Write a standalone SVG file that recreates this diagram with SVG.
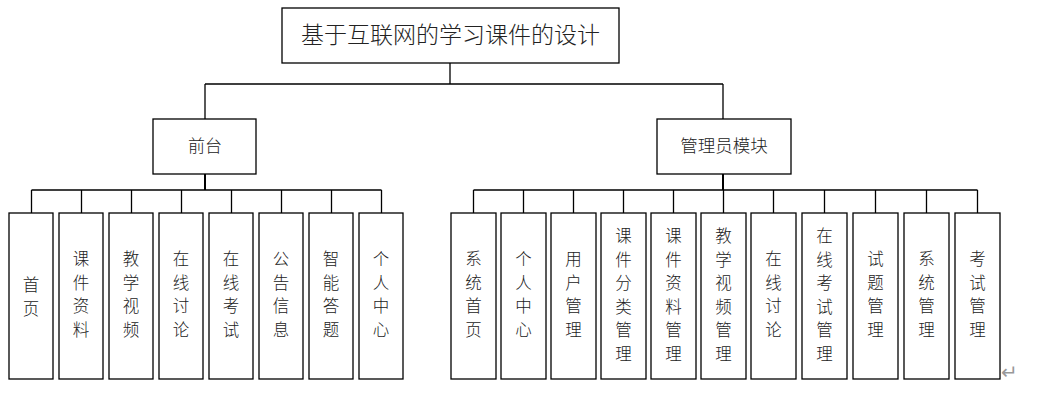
<svg xmlns="http://www.w3.org/2000/svg" width="1046" height="401" viewBox="0 0 1046 401">
<style>
.box{fill:#fff;stroke:#000;stroke-width:1.3}
.ln{fill:none;stroke:#000;stroke-width:1.3}
.thick{fill:none;stroke:#000;stroke-width:2}
text{font-family:"Noto Sans CJK SC","Liberation Sans",sans-serif;font-weight:300;fill:#222;text-anchor:middle}
.v{font-size:16.5px}
</style>
<rect width="1046" height="401" fill="#fff"/>
<g id="connectors">
<path class="ln" d="M450,63V84M205,84H723M205,84V119M723,84V119"/>
<path class="thick" d="M205,174V190M723,174V190"/>
<path class="ln" d="M31.5,190H381.5M31.5,190V213M81.5,190V213M131.5,190V213M181.5,190V213M231.5,190V213M281.5,190V213M331.5,190V213M381.5,190V213"/>
<path class="ln" d="M473.5,190H977.5M473.5,190V213M523.5,190V213M573.5,190V213M623.5,190V213M673.5,190V213M723.5,190V213M773.5,190V213M824.5,190V213M875.5,190V213M926.5,190V213M977.5,190V213"/>
</g>
<g id="root"><rect class="box" x="282" y="8" width="337" height="55"/><text x="450.5" y="43" font-size="23">基于互联网的学习课件的设计</text></g>
<g id="qiantai"><rect class="box" x="153" y="119" width="103" height="55"/><text x="205" y="152" font-size="17">前台</text></g>
<g id="admin"><rect class="box" x="657" y="119" width="134" height="55"/><text x="724" y="152" font-size="17.5">管理员模块</text></g>

<g id="l1"><rect class="box" x="9" y="213" width="44" height="166"/><text class="v" x="31" y="291"><tspan x="31">首</tspan><tspan x="31" dy="23.5">页</tspan></text></g>
<g id="l2"><rect class="box" x="59" y="213" width="44" height="166"/><text class="v" x="81" y="265"><tspan x="81">课</tspan><tspan x="81" dy="23.5">件</tspan><tspan x="81" dy="23.5">资</tspan><tspan x="81" dy="23.5">料</tspan></text></g>
<g id="l3"><rect class="box" x="109" y="213" width="44" height="166"/><text class="v" x="131" y="265"><tspan x="131">教</tspan><tspan x="131" dy="23.5">学</tspan><tspan x="131" dy="23.5">视</tspan><tspan x="131" dy="23.5">频</tspan></text></g>
<g id="l4"><rect class="box" x="159" y="213" width="44" height="166"/><text class="v" x="181" y="265"><tspan x="181">在</tspan><tspan x="181" dy="23.5">线</tspan><tspan x="181" dy="23.5">讨</tspan><tspan x="181" dy="23.5">论</tspan></text></g>
<g id="l5"><rect class="box" x="209" y="213" width="44" height="166"/><text class="v" x="231" y="265"><tspan x="231">在</tspan><tspan x="231" dy="23.5">线</tspan><tspan x="231" dy="23.5">考</tspan><tspan x="231" dy="23.5">试</tspan></text></g>
<g id="l6"><rect class="box" x="259" y="213" width="44" height="166"/><text class="v" x="281" y="265"><tspan x="281">公</tspan><tspan x="281" dy="23.5">告</tspan><tspan x="281" dy="23.5">信</tspan><tspan x="281" dy="23.5">息</tspan></text></g>
<g id="l7"><rect class="box" x="309" y="213" width="44" height="166"/><text class="v" x="331" y="265"><tspan x="331">智</tspan><tspan x="331" dy="23.5">能</tspan><tspan x="331" dy="23.5">答</tspan><tspan x="331" dy="23.5">题</tspan></text></g>
<g id="l8"><rect class="box" x="359" y="213" width="44" height="166"/><text class="v" x="381" y="265"><tspan x="381">个</tspan><tspan x="381" dy="23.5">人</tspan><tspan x="381" dy="23.5">中</tspan><tspan x="381" dy="23.5">心</tspan></text></g>

<g id="r1"><rect class="box" x="451" y="213" width="45" height="166"/><text class="v" y="265"><tspan x="473.5">系</tspan><tspan x="473.5" dy="23.5">统</tspan><tspan x="473.5" dy="23.5">首</tspan><tspan x="473.5" dy="23.5">页</tspan></text></g>
<g id="r2"><rect class="box" x="501" y="213" width="45" height="166"/><text class="v" y="265"><tspan x="523.5">个</tspan><tspan x="523.5" dy="23.5">人</tspan><tspan x="523.5" dy="23.5">中</tspan><tspan x="523.5" dy="23.5">心</tspan></text></g>
<g id="r3"><rect class="box" x="551" y="213" width="45" height="166"/><text class="v" y="265"><tspan x="573.5">用</tspan><tspan x="573.5" dy="23.5">户</tspan><tspan x="573.5" dy="23.5">管</tspan><tspan x="573.5" dy="23.5">理</tspan></text></g>
<g id="r4"><rect class="box" x="601" y="213" width="45" height="166"/><text class="v" y="242"><tspan x="623.5">课</tspan><tspan x="623.5" dy="23.5">件</tspan><tspan x="623.5" dy="23.5">分</tspan><tspan x="623.5" dy="23.5">类</tspan><tspan x="623.5" dy="23.5">管</tspan><tspan x="623.5" dy="23.5">理</tspan></text></g>
<g id="r5"><rect class="box" x="651" y="213" width="45" height="166"/><text class="v" y="242"><tspan x="673.5">课</tspan><tspan x="673.5" dy="23.5">件</tspan><tspan x="673.5" dy="23.5">资</tspan><tspan x="673.5" dy="23.5">料</tspan><tspan x="673.5" dy="23.5">管</tspan><tspan x="673.5" dy="23.5">理</tspan></text></g>
<g id="r6"><rect class="box" x="701" y="213" width="45" height="166"/><text class="v" y="242"><tspan x="723.5">教</tspan><tspan x="723.5" dy="23.5">学</tspan><tspan x="723.5" dy="23.5">视</tspan><tspan x="723.5" dy="23.5">频</tspan><tspan x="723.5" dy="23.5">管</tspan><tspan x="723.5" dy="23.5">理</tspan></text></g>
<g id="r7"><rect class="box" x="751" y="213" width="45" height="166"/><text class="v" y="265"><tspan x="773.5">在</tspan><tspan x="773.5" dy="23.5">线</tspan><tspan x="773.5" dy="23.5">讨</tspan><tspan x="773.5" dy="23.5">论</tspan></text></g>
<g id="r8"><rect class="box" x="802" y="213" width="45" height="166"/><text class="v" y="242"><tspan x="824.5">在</tspan><tspan x="824.5" dy="23.5">线</tspan><tspan x="824.5" dy="23.5">考</tspan><tspan x="824.5" dy="23.5">试</tspan><tspan x="824.5" dy="23.5">管</tspan><tspan x="824.5" dy="23.5">理</tspan></text></g>
<g id="r9"><rect class="box" x="853" y="213" width="45" height="166"/><text class="v" y="265"><tspan x="875.5">试</tspan><tspan x="875.5" dy="23.5">题</tspan><tspan x="875.5" dy="23.5">管</tspan><tspan x="875.5" dy="23.5">理</tspan></text></g>
<g id="r10"><rect class="box" x="904" y="213" width="45" height="166"/><text class="v" y="265"><tspan x="926.5">系</tspan><tspan x="926.5" dy="23.5">统</tspan><tspan x="926.5" dy="23.5">管</tspan><tspan x="926.5" dy="23.5">理</tspan></text></g>
<g id="r11"><rect class="box" x="955" y="213" width="45" height="166"/><text class="v" y="265"><tspan x="977.5">考</tspan><tspan x="977.5" dy="23.5">试</tspan><tspan x="977.5" dy="23.5">管</tspan><tspan x="977.5" dy="23.5">理</tspan></text></g>
<text x="1009" y="379" font-size="20" style="fill:#999">↵</text>
</svg>
